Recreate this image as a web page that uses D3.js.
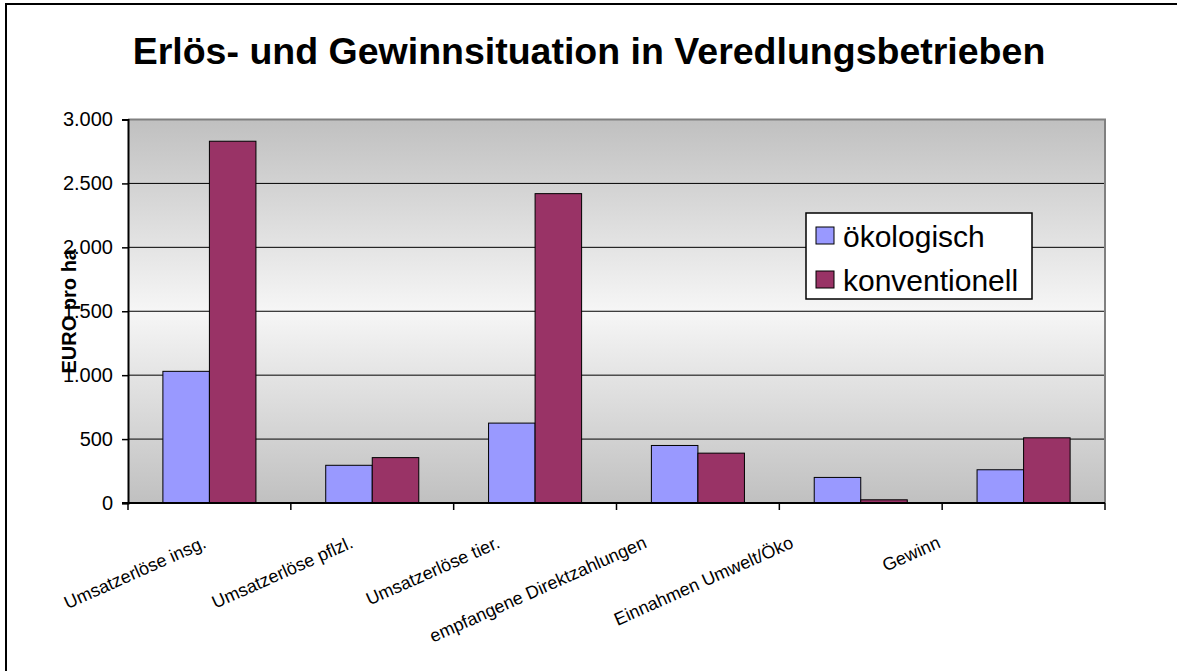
<!DOCTYPE html>
<html>
<head>
<meta charset="utf-8">
<script src="https://cdn.jsdelivr.net/npm/d3@7"></script>
<style>
  body { margin: 0; background: #fff; }
  svg text { font-family: "Liberation Sans", Arial, sans-serif; }
</style>
</head>
<body>
<div id="chart"></div>
<script>
// data
const categories = ["Umsatzerlöse insg.", "Umsatzerlöse pflzl.", "Umsatzerlöse tier.",
    "empfangene Direktzahlungen", "Einnahmen Umwelt/Öko", "Gewinn"];
const seriesNames = ["ökologisch", "konventionell"];
const oekologisch = [1030, 295, 625, 450, 200, 260];
const konventionell = [2830, 355, 2420, 390, 25, 510];
const yTicks = [0, 500, 1000, 1500, 2000, 2500, 3000];
const colors = ["#9999ff", "#993366"];

const width = 1177;
const height = 671;
const plot = { left: 128, right: 1105, top: 119.5, bottom: 503 };

const svg = d3.select("#chart")
    .append("svg")
    .attr("width", width)
    .attr("height", height);

// outer frame (runs off the right/bottom edge like the original)
svg.append("rect")
    .attr("x", 6).attr("y", 4)
    .attr("width", width + 20).attr("height", height + 20)
    .style("fill", "#fff")
    .style("stroke", "#000")
    .style("stroke-width", 2);

// plot background gradient
const grad = svg.append("defs")
    .append("linearGradient")
    .attr("id", "plot-bg")
    .attr("x1", 0).attr("y1", 0)
    .attr("x2", 0).attr("y2", 1);
[{ o: "0%", c: "#c0c0c0" }, { o: "50%", c: "#f6f6f6" }, { o: "100%", c: "#c0c0c0" }]
    .forEach(s => grad.append("stop").attr("offset", s.o).attr("stop-color", s.c));

svg.append("rect")
    .attr("x", plot.left).attr("y", plot.top)
    .attr("width", plot.right - plot.left)
    .attr("height", plot.bottom - plot.top)
    .style("fill", "url(#plot-bg)");

// scales
const x = d3.scaleBand()
    .domain(categories)
    .range([plot.left, plot.right]);

const y = d3.scaleLinear()
    .domain([0, 3000])
    .range([plot.bottom, plot.top]);

const barW = x.bandwidth() / 3.5;
const sub = d3.scaleBand()
    .domain(seriesNames)
    .range([x.bandwidth() / 2 - barW, x.bandwidth() / 2 + barW]);

const de = d3.formatLocale({ decimal: ",", thousands: ".", grouping: [3], currency: ["", " €"] });
const fmt = de.format(",d");

// gridlines
svg.append("g")
    .selectAll("line")
    .data(yTicks.filter(d => d > 0 && d < 3000))
    .enter()
    .append("line")
    .attr("x1", plot.left).attr("x2", plot.right)
    .attr("y1", d => y(d)).attr("y2", d => y(d))
    .style("stroke", "#000")
    .style("stroke-width", 1);

// plot border top and right
svg.append("path")
    .attr("d", `M${plot.left},${plot.top}H${plot.right}V${plot.bottom}`)
    .style("fill", "none")
    .style("stroke", "#808080")
    .style("stroke-width", 2);

// bars
const rows = categories.map((c, i) => ({ cat: c, values: [oekologisch[i], konventionell[i]] }));
const groups = svg.append("g")
    .selectAll("g")
    .data(rows)
    .enter()
    .append("g")
    .attr("transform", d => `translate(${x(d.cat)},0)`);

groups.selectAll("rect")
    .data(d => d.values.map((v, i) => ({ name: seriesNames[i], v: v, i: i })))
    .enter()
    .append("rect")
    .attr("x", d => sub(d.name))
    .attr("y", d => y(d.v))
    .attr("width", sub.bandwidth())
    .attr("height", d => y(0) - y(d.v))
    .style("fill", d => colors[d.i])
    .style("stroke", "#000")
    .style("stroke-width", 1);

// y axis
const yAxis = svg.append("g")
    .attr("transform", `translate(${plot.left},0)`)
    .call(d3.axisLeft(y).tickValues(yTicks).tickFormat(fmt).tickSize(6).tickPadding(9));
yAxis.select(".domain").style("stroke", "#000").style("stroke-width", 2);
yAxis.selectAll(".tick line").style("stroke", "#000").style("stroke-width", 1.5);
yAxis.selectAll("text")
    .style("font-family", "Liberation Sans, Arial, sans-serif")
    .style("font-size", "20px")
    .style("fill", "#000");

// x axis line + ticks at category boundaries
svg.append("line")
    .attr("x1", plot.left - 6).attr("x2", plot.right)
    .attr("y1", plot.bottom).attr("y2", plot.bottom)
    .style("stroke", "#000")
    .style("stroke-width", 2);

svg.append("g")
    .selectAll("line")
    .data(categories.map(c => x(c)).concat([plot.right]))
    .enter()
    .append("line")
    .attr("x1", d => d).attr("x2", d => d)
    .attr("y1", plot.bottom).attr("y2", plot.bottom + 7)
    .style("stroke", "#000")
    .style("stroke-width", 1.5);

// category labels, rotated (Excel squeezes them leftwards a bit)
const mid = d => x(d) + x.bandwidth() / 2;
const labelX = d3.scaleLinear()
    .domain([mid(categories[0]), mid(categories[5])])
    .range([mid(categories[0]) - 2, mid(categories[5]) - 82]);

svg.append("g")
    .selectAll("text")
    .data(categories)
    .enter()
    .append("text")
    .attr("transform", d => `translate(${labelX(mid(d))},${plot.bottom + 44}) rotate(-24)`)
    .attr("text-anchor", "end")
    .style("font-size", "18px")
    .style("fill", "#000")
    .text(d => d);

// y title
svg.append("text")
    .attr("transform", `translate(76,${(plot.top + plot.bottom) / 2}) rotate(-90)`)
    .attr("text-anchor", "middle")
    .style("font-size", "20px")
    .style("font-weight", "bold")
    .text("EURO pro ha");

// chart title
svg.append("text")
    .attr("x", 589)
    .attr("y", 64)
    .attr("text-anchor", "middle")
    .style("font-size", "37.5px")
    .style("font-weight", "bold")
    .text("Erlös- und Gewinnsituation in Veredlungsbetrieben");

// legend
const legend = svg.append("g").attr("transform", "translate(806,213)");
legend.append("rect")
    .attr("width", 226).attr("height", 86)
    .style("fill", "#fff")
    .style("stroke", "#000")
    .style("stroke-width", 1.5);

const item = legend.selectAll(".item")
    .data(seriesNames)
    .enter()
    .append("g")
    .attr("class", "item")
    .attr("transform", (d, i) => `translate(10,${14 + i * 44})`);

item.append("rect")
    .attr("width", 18).attr("height", 17)
    .style("fill", (d, i) => colors[i])
    .style("stroke", "#000")
    .style("stroke-width", 1);

item.append("text")
    .attr("x", 27)
    .attr("y", 20)
    .style("font-size", "30px")
    .text(d => d);
</script>
</body>
</html>
